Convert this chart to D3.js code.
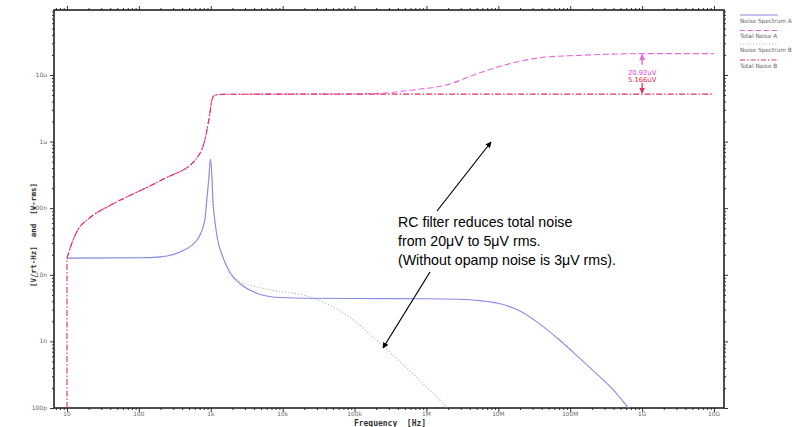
<!DOCTYPE html>
<html>
<head>
<meta charset="utf-8">
<script src="https://cdn.jsdelivr.net/npm/d3@7"></script>
<style>
  html, body { margin: 0; padding: 0; background: #fff; }
  svg { display: block; }
</style>
</head>
<body>
<svg id="chart" width="802" height="427"></svg>
<script>
// ---------------- DATA ----------------
const xTickValues = [10, 100, 1e3, 1e4, 1e5, 1e6, 1e7, 1e8, 1e9, 1e10];
const xTickLabels = ["10", "100", "1k", "10k", "100k", "1M", "10M", "100M", "1G", "10G"];
const yTickValues = [1e-10, 1e-9, 1e-8, 1e-7, 1e-6, 1e-5];
const yTickLabels = ["100p", "1n", "10n", "100n", "1u", "10u"];

// Noise Spectrum A [V/rt-Hz]
const freqA = [10, 100, 200, 372, 640, 826, 880, 940, 990, 1040, 1070, 1137, 1250, 1470, 1840, 2530, 4350, 7250,
               2e4, 1e5, 1e6, 2.5e6, 5.4e6, 1.03e7, 1.94e7, 3.7e7, 7.1e7, 1.33e8, 2.53e8, 4e8, 5e8, 6.3e8, 8.5e8];
const noiseA = [17.8e-9, 18e-9, 18.6e-9, 22e-9, 33e-9, 66e-9, 133e-9, 280e-9, 542e-9, 280e-9, 133e-9, 66e-9, 33e-9,
                18.5e-9, 10.8e-9, 7.4e-9, 5.3e-9, 4.65e-9,
                4.45e-9, 4.4e-9, 4.38e-9, 4.3e-9, 4.1e-9, 3.7e-9, 2.9e-9, 1.85e-9, 1.05e-9, 0.57e-9, 0.3e-9,
                0.185e-9, 0.14e-9, 0.103e-9, 0.072e-9];

// Noise Spectrum B [V/rt-Hz]
const freqB = [10, 100, 200, 372, 640, 826, 880, 940, 990, 1040, 1070, 1137, 1250, 1470, 1840, 2530, 5270, 9080,
               1.9e4, 3.27e4, 7.7e4, 1.5e5, 2.6e5, 6.4e5, 1.5e6, 2.3e6];
const noiseB = [17.8e-9, 18e-9, 18.6e-9, 22e-9, 33e-9, 66e-9, 133e-9, 280e-9, 542e-9, 280e-9, 133e-9, 66e-9, 33e-9,
                19e-9, 11.5e-9, 7.9e-9, 6.3e-9, 5.6e-9,
                5.0e-9, 4.1e-9, 2.5e-9, 1.4e-9, 0.82e-9, 0.33e-9, 0.135e-9, 0.085e-9];

// Total Noise A [V-rms]
const freqTA = [10, 11.7, 13.8, 20.9, 39.6, 70, 100, 142, 200, 300, 408, 513, 640, 750, 826, 880, 938, 1000, 1033, 1100,
                1200, 1500, 1e4, 1e5, 2.22e5, 6.4e5, 1.9e6, 5.4e6, 1.56e7, 4.6e7, 1.33e8, 4e8, 1e9, 1e10];
const totalA = [17.8e-9, 30e-9, 45e-9, 72e-9, 110e-9, 150e-9, 180e-9, 215e-9, 260e-9, 320e-9, 370e-9, 440e-9, 570e-9,
                760e-9, 1.05e-6, 1.45e-6, 2.1e-6, 3.3e-6, 4.2e-6, 4.85e-6, 5.05e-6, 5.12e-6, 5.166e-6,
                5.2e-6, 5.3e-6, 5.96e-6, 7.1e-6, 10.7e-6, 15.1e-6, 18.6e-6, 19.7e-6, 20.6e-6, 20.92e-6, 20.92e-6];

// Total Noise B [V-rms]
const freqTB = [10, 11.7, 13.8, 20.9, 39.6, 70, 100, 142, 200, 300, 408, 513, 640, 750, 826, 880, 938, 1000, 1033, 1100,
                1200, 1500, 1e4, 1e10];
const totalB = [17.8e-9, 30e-9, 45e-9, 72e-9, 110e-9, 150e-9, 180e-9, 215e-9, 260e-9, 320e-9, 370e-9, 440e-9, 570e-9,
                760e-9, 1.05e-6, 1.45e-6, 2.1e-6, 3.3e-6, 4.2e-6, 4.85e-6, 5.05e-6, 5.12e-6, 5.166e-6, 5.166e-6];

// Marker readout at 1 GHz
const markerFreq = 1e9;
const markerValues = [20.92e-6, 5.166e-6];
const markerLabels = ["20.92uV", "5.166uV"];

const legendLabels = ["Noise Spectrum A", "Total Noise A", "Noise Spectrum B", "Total Noise B"];

const noteLines = ["RC filter reduces total noise", "from 20\u03BCV to 5\u03BCV rms.", "(Without opamp noise is 3\u03BCV rms)."];

// ---------------- LAYOUT ----------------
const svg = d3.select("#chart");
const plot = {left: 54, top: 10, right: 724, bottom: 408};
const pxPerDecX = 71.9, pxPerDecY = 66.6;
const x = d3.scaleLog()
  .domain([10 / Math.pow(10, 13 / pxPerDecX), 1e10 * Math.pow(10, 10 / pxPerDecX)])
  .range([plot.left, plot.right]);
const y = d3.scaleLog()
  .domain([1e-10, 1e-10 * Math.pow(10, (plot.bottom - plot.top) / pxPerDecY)])
  .range([plot.bottom, plot.top]);

const colA = "#8a8ae8", colTA = "#ea66dc", colB = "#a9c9a0", colTB = "#e0305f";

// clip
svg.append("defs").append("clipPath").attr("id", "clip")
  .append("rect").attr("x", plot.left).attr("y", plot.top)
  .attr("width", plot.right - plot.left).attr("height", plot.bottom - plot.top);

// ---------------- AXES ----------------
function minorTicks(scale) {
  const [d0, d1] = scale.domain();
  const out = [];
  for (let e = Math.floor(Math.log10(d0)); e <= Math.ceil(Math.log10(d1)); e++) {
    for (let m = 1; m <= 9; m++) {
      const v = m * Math.pow(10, e);
      if (v >= d0 && v <= d1) out.push(v);
    }
  }
  return out;
}
const xMinor = minorTicks(x), yMinor = minorTicks(y);
const isMajor = v => Math.abs(Math.log10(v) - Math.round(Math.log10(v))) < 1e-9;

function drawAxis(gen, tr, vals) {
  const g = svg.append("g").attr("transform", tr);
  g.call(gen.tickValues(vals).tickSizeOuter(0).tickFormat(""));
  g.selectAll(".tick line").attr("stroke", "#333").attr("stroke-width", 1)
    .each(function(d) {
      const big = isMajor(d);
      const sel = d3.select(this);
      for (const a of ["x2", "y2"]) {
        const v = +sel.attr(a);
        if (v) sel.attr(a, Math.sign(v) * (big ? 4 : 2));
      }
    });
  g.select(".domain").remove();
  return g;
}
drawAxis(d3.axisBottom(x), `translate(0,${plot.bottom})`, xMinor);
drawAxis(d3.axisTop(x), `translate(0,${plot.top})`, xMinor);
drawAxis(d3.axisLeft(y), `translate(${plot.left},0)`, yMinor);
drawAxis(d3.axisRight(y), `translate(${plot.right},0)`, yMinor);

// frame
svg.append("rect").attr("x", plot.left).attr("y", plot.top)
  .attr("width", plot.right - plot.left).attr("height", plot.bottom - plot.top)
  .attr("fill", "none").attr("stroke", "#222").attr("stroke-width", 1.6);

// tick labels
svg.append("g").selectAll("text").data(xTickValues).join("text")
  .attr("x", d => x(d)).attr("y", plot.bottom + 8)
  .attr("text-anchor", "middle").attr("font-family", "DejaVu Sans").attr("font-size", 5.8)
  .attr("fill", "#666").text((d, i) => xTickLabels[i]);
svg.append("g").selectAll("text").data(yTickValues).join("text")
  .attr("x", plot.left - 7).attr("y", d => y(d) + 2)
  .attr("text-anchor", "end").attr("font-family", "DejaVu Sans").attr("font-size", 6)
  .attr("fill", "#666").text((d, i) => yTickLabels[i]);

// axis titles
svg.append("text").attr("x", 390).attr("y", 425.5).attr("text-anchor", "middle")
  .attr("font-family", "DejaVu Sans Mono").attr("font-weight", "bold").attr("font-size", 8)
  .attr("fill", "#333").attr("xml:space", "preserve").text("Frequency  [Hz]");
svg.append("text").attr("transform", "translate(36,235) rotate(-90)").attr("text-anchor", "middle")
  .attr("font-family", "DejaVu Sans Mono").attr("font-weight", "bold").attr("font-size", 7.5)
  .attr("fill", "#333").attr("xml:space", "preserve").text("[V/rt-Hz]  and  [V-rms]");

// ---------------- SERIES ----------------
const line = d3.line().x(d => x(d[0])).y(d => y(d[1])).curve(d3.curveMonotoneX);
const gData = svg.append("g").attr("clip-path", "url(#clip)");

function series(f, v, color, dash, width) {
  gData.append("path").datum(f.map((d, i) => [d, v[i]]))
    .attr("d", line).attr("fill", "none").attr("stroke", color)
    .attr("stroke-width", width).attr("stroke-dasharray", dash);
}
series(freqB, noiseB, colB, "1.2,2", 1.2);
series(freqA, noiseA, colA, null, 1.1);
series(freqTA, totalA, colTA, "6,3", 1.1);
series(freqTB, totalB, colTB, "6,2,1.5,2", 1.1);

// vertical start of the integrated totals at the first frequency
gData.append("line").attr("x1", x(freqTB[0])).attr("x2", x(freqTB[0]))
  .attr("y1", y(y.domain()[0])).attr("y2", y(totalB[0]))
  .attr("stroke", colTB).attr("stroke-width", 1.1).attr("stroke-dasharray", "6,2,1.5,2");

// ---------------- MARKER ----------------
const defs = svg.select("defs");
function marker(id, color) {
  defs.append("marker").attr("id", id).attr("viewBox", "0 0 10 10").attr("refX", 9).attr("refY", 5)
    .attr("markerWidth", 6).attr("markerHeight", 6).attr("orient", "auto-start-reverse")
    .attr("markerUnits", "userSpaceOnUse")
    .append("path").attr("d", "M0,0 L10,5 L0,10 z").attr("fill", color);
}
marker("mMag", colTA); marker("mRed", colTB);
marker("mBlk", "#000");
const mx = x(markerFreq);
svg.append("line").attr("x1", mx).attr("x2", mx).attr("y1", y(markerValues[0]) + 11).attr("y2", y(markerValues[0]) + 1)
  .attr("stroke", "#e040d8").attr("stroke-width", 1.2).attr("marker-end", "url(#mMag)");
svg.append("line").attr("x1", mx).attr("x2", mx).attr("y1", y(markerValues[1]) - 11).attr("y2", y(markerValues[1]) - 1)
  .attr("stroke", "#e0203c").attr("stroke-width", 1.2).attr("marker-end", "url(#mRed)");
svg.append("text").attr("x", mx).attr("y", 74.5).attr("text-anchor", "middle")
  .attr("font-family", "DejaVu Sans").attr("font-size", 6.8).attr("fill", "#e040d8").text(markerLabels[0]);
svg.append("text").attr("x", mx).attr("y", 81.5).attr("text-anchor", "middle")
  .attr("font-family", "DejaVu Sans").attr("font-size", 6.8).attr("fill", "#e0203c").text(markerLabels[1]);

// ---------------- LEGEND ----------------
const legStyles = [[colA, null, 1.1], [colTA, "5,3", 1.1], [colB, "1.2,2", 1.2], [colTB, "5,2,1.5,2", 1.1]];
const legY = [15, 30.5, 44, 60];
const lg = svg.append("g");
legendLabels.forEach((t, i) => {
  lg.append("line").attr("x1", 740).attr("x2", 778).attr("y1", legY[i]).attr("y2", legY[i])
    .attr("stroke", legStyles[i][0]).attr("stroke-width", legStyles[i][2])
    .attr("stroke-dasharray", legStyles[i][1]);
  lg.append("text").attr("x", 740).attr("y", legY[i] + 7.5)
    .attr("font-family", "DejaVu Sans").attr("font-size", 5.8).attr("fill", "#666").text(t);
});

// ---------------- NOTE ----------------
noteLines.forEach((t, i) => {
  svg.append("text").attr("x", 398).attr("y", 227 + i * 19)
    .attr("font-family", "Liberation Sans, Arial, sans-serif").attr("font-size", 14.2)
    .attr("fill", "#000").text(t);
});
svg.append("line").attr("x1", 437).attr("y1", 211).attr("x2", 491).attr("y2", 142)
  .attr("stroke", "#000").attr("stroke-width", 1.2).attr("marker-end", "url(#mBlk)");
svg.append("line").attr("x1", 430).attr("y1", 272).attr("x2", 383).attr("y2", 348)
  .attr("stroke", "#000").attr("stroke-width", 1.2).attr("marker-end", "url(#mBlk)");
</script>
</body>
</html>
